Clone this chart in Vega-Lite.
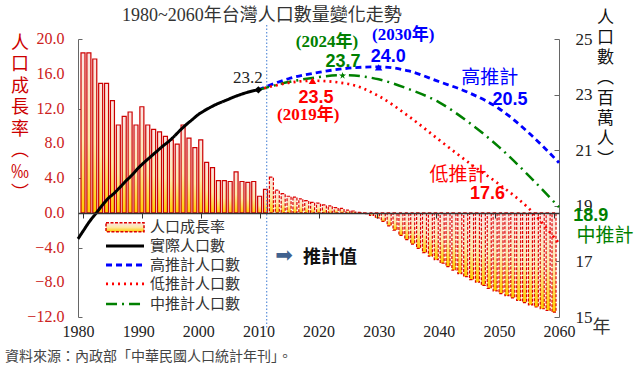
{
"$schema": "https://vega.github.io/schema/vega-lite/v6.json",
"width": 481, "height": 278,
"autosize": {"type": "none"},
"padding": {"left": 78, "top": 39, "right": 81, "bottom": 51},
"background": "white",
"config": {"view": {"stroke": null}, "axis": {"grid": false, "labelOverlap": false, "labelFlush": false}},
"datasets": {
"rate": [
{"year":1980,"rate":18.4,"kind":"實際"},{"year":1981,"rate":18.4,"kind":"實際"},{"year":1982,"rate":17.7,"kind":"實際"},{"year":1983,"rate":14.9,"kind":"實際"},{"year":1984,"rate":14.9,"kind":"實際"},{"year":1985,"rate":12.9,"kind":"實際"},{"year":1986,"rate":10.1,"kind":"實際"},{"year":1987,"rate":11.1,"kind":"實際"},{"year":1988,"rate":11.6,"kind":"實際"},{"year":1989,"rate":10.1,"kind":"實際"},
{"year":1990,"rate":12.2,"kind":"實際"},{"year":1991,"rate":10.1,"kind":"實際"},{"year":1992,"rate":9.6,"kind":"實際"},{"year":1993,"rate":9.3,"kind":"實際"},{"year":1994,"rate":8.8,"kind":"實際"},{"year":1995,"rate":8.4,"kind":"實際"},{"year":1996,"rate":7.9,"kind":"實際"},{"year":1997,"rate":10.1,"kind":"實際"},{"year":1998,"rate":8.6,"kind":"實際"},{"year":1999,"rate":7.5,"kind":"實際"},
{"year":2000,"rate":8.4,"kind":"實際"},{"year":2001,"rate":5.8,"kind":"實際"},{"year":2002,"rate":5.2,"kind":"實際"},{"year":2003,"rate":3.7,"kind":"實際"},{"year":2004,"rate":3.7,"kind":"實際"},{"year":2005,"rate":3.6,"kind":"實際"},{"year":2006,"rate":4.7,"kind":"實際"},{"year":2007,"rate":3.6,"kind":"實際"},{"year":2008,"rate":3.5,"kind":"實際"},{"year":2009,"rate":3.6,"kind":"實際"},
{"year":2010,"rate":1.9,"kind":"實際"},{"year":2011,"rate":2.7,"kind":"實際"},
{"year":2012,"rate":4.1,"kind":"推計"},{"year":2013,"rate":2.6,"kind":"推計"},{"year":2014,"rate":2.2,"kind":"推計"},{"year":2015,"rate":1.9,"kind":"推計"},{"year":2016,"rate":1.8,"kind":"推計"},{"year":2017,"rate":1.6,"kind":"推計"},{"year":2018,"rate":1.4,"kind":"推計"},{"year":2019,"rate":1.2,"kind":"推計"},
{"year":2020,"rate":1.1,"kind":"推計"},{"year":2021,"rate":0.9,"kind":"推計"},{"year":2022,"rate":0.8,"kind":"推計"},{"year":2023,"rate":0.6,"kind":"推計"},{"year":2024,"rate":0.5,"kind":"推計"},{"year":2025,"rate":0.3,"kind":"推計"},{"year":2026,"rate":0.2,"kind":"推計"},{"year":2027,"rate":0.05,"kind":"推計"},{"year":2028,"rate":-0.1,"kind":"推計"},{"year":2029,"rate":-0.3,"kind":"推計"},
{"year":2030,"rate":-0.6,"kind":"推計"},{"year":2031,"rate":-1.0,"kind":"推計"},{"year":2032,"rate":-1.5,"kind":"推計"},{"year":2033,"rate":-2.0,"kind":"推計"},{"year":2034,"rate":-2.6,"kind":"推計"},{"year":2035,"rate":-3.1,"kind":"推計"},{"year":2036,"rate":-3.6,"kind":"推計"},{"year":2037,"rate":-4.1,"kind":"推計"},{"year":2038,"rate":-4.6,"kind":"推計"},{"year":2039,"rate":-5.0,"kind":"推計"},
{"year":2040,"rate":-5.4,"kind":"推計"},{"year":2041,"rate":-5.8,"kind":"推計"},{"year":2042,"rate":-6.2,"kind":"推計"},{"year":2043,"rate":-6.6,"kind":"推計"},{"year":2044,"rate":-7.0,"kind":"推計"},{"year":2045,"rate":-7.35,"kind":"推計"},{"year":2046,"rate":-7.7,"kind":"推計"},{"year":2047,"rate":-8.0,"kind":"推計"},{"year":2048,"rate":-8.35,"kind":"推計"},{"year":2049,"rate":-8.7,"kind":"推計"},
{"year":2050,"rate":-9.0,"kind":"推計"},{"year":2051,"rate":-9.3,"kind":"推計"},{"year":2052,"rate":-9.55,"kind":"推計"},{"year":2053,"rate":-9.8,"kind":"推計"},{"year":2054,"rate":-10.1,"kind":"推計"},{"year":2055,"rate":-10.35,"kind":"推計"},{"year":2056,"rate":-10.6,"kind":"推計"},{"year":2057,"rate":-10.85,"kind":"推計"},{"year":2058,"rate":-11.05,"kind":"推計"},{"year":2059,"rate":-11.25,"kind":"推計"},
{"year":2060,"rate":-11.45,"kind":"推計"}
],
"pop": [
{"series":"實際","year":1980,"pop":17.81},{"series":"實際","year":1981,"pop":18.14},{"series":"實際","year":1982,"pop":18.46},{"series":"實際","year":1983,"pop":18.73},{"series":"實際","year":1984,"pop":19.01},{"series":"實際","year":1985,"pop":19.26},{"series":"實際","year":1986,"pop":19.45},{"series":"實際","year":1987,"pop":19.67},{"series":"實際","year":1988,"pop":19.9},{"series":"實際","year":1989,"pop":20.11},
{"series":"實際","year":1990,"pop":20.35},{"series":"實際","year":1991,"pop":20.56},{"series":"實際","year":1992,"pop":20.75},{"series":"實際","year":1993,"pop":20.94},{"series":"實際","year":1994,"pop":21.13},{"series":"實際","year":1995,"pop":21.3},{"series":"實際","year":1996,"pop":21.5},{"series":"實際","year":1997,"pop":21.72},{"series":"實際","year":1998,"pop":21.92},{"series":"實際","year":1999,"pop":22.1},
{"series":"實際","year":2000,"pop":22.28},{"series":"實際","year":2001,"pop":22.42},{"series":"實際","year":2002,"pop":22.54},{"series":"實際","year":2003,"pop":22.65},{"series":"實際","year":2004,"pop":22.74},{"series":"實際","year":2005,"pop":22.83},{"series":"實際","year":2006,"pop":22.92},{"series":"實際","year":2007,"pop":23.0},{"series":"實際","year":2008,"pop":23.07},{"series":"實際","year":2009,"pop":23.13},{"series":"實際","year":2010,"pop":23.17},
{"series":"高","year":2010,"pop":23.17},{"series":"高","year":2015,"pop":23.57},{"series":"高","year":2020,"pop":23.8},{"series":"高","year":2025,"pop":23.95},{"series":"高","year":2030,"pop":24.0},{"series":"高","year":2035,"pop":23.85},{"series":"高","year":2040,"pop":23.47},{"series":"高","year":2045,"pop":23.07},{"series":"高","year":2050,"pop":22.5},{"series":"高","year":2055,"pop":21.62},{"series":"高","year":2060,"pop":20.55},
{"series":"中","year":2010,"pop":23.17},{"series":"中","year":2015,"pop":23.45},{"series":"中","year":2020,"pop":23.63},{"series":"中","year":2024,"pop":23.7},{"series":"中","year":2030,"pop":23.55},{"series":"中","year":2035,"pop":23.2},{"series":"中","year":2040,"pop":22.73},{"series":"中","year":2045,"pop":22.0},{"series":"中","year":2050,"pop":21.12},{"series":"中","year":2055,"pop":20.08},{"series":"中","year":2060,"pop":18.95},
{"series":"低","year":2010,"pop":23.17},{"series":"低","year":2015,"pop":23.42},{"series":"低","year":2019,"pop":23.5},{"series":"低","year":2025,"pop":23.38},{"series":"低","year":2030,"pop":22.95},{"series":"低","year":2035,"pop":22.22},{"series":"低","year":2040,"pop":21.38},{"series":"低","year":2045,"pop":20.55},{"series":"低","year":2050,"pop":19.78},{"series":"低","year":2055,"pop":18.9},{"series":"低","year":2060,"pop":17.65}
],
"peaks": [
{"series":"實際","year":2010,"pop":23.17},{"series":"低","year":2019,"pop":23.5},{"series":"中","year":2024,"pop":23.68},{"series":"高","year":2030,"pop":23.98}
],
"legendLines": [
{"series":"實際","x1":1984.66,"x2":1990.98,"y":17.55},{"series":"高","x1":1984.66,"x2":1990.98,"y":16.87},{"series":"低","x1":1984.66,"x2":1990.98,"y":16.19},{"series":"中","x1":1984.66,"x2":1990.98,"y":15.47}
],
"legendLabels": [
{"t":"人口成長率","x":1991.98,"y":18.23},{"t":"實際人口數","x":1991.98,"y":17.55},{"t":"高推計人口數","x":1991.98,"y":16.87},{"t":"低推計人口數","x":1991.98,"y":16.19},{"t":"中推計人口數","x":1991.98,"y":15.47}
],
"numbers": [
{"t":"23.7","series":"中","x":2024.07,"y":24.19},{"t":"24.0","series":"高","x":2031.6,"y":24.37},{"t":"23.5","series":"低","x":2019.6,"y":22.86},{"t":"20.5","series":"高","x":2051.85,"y":22.8},{"t":"17.6","series":"低","x":2048.1,"y":19.41},{"t":"18.9","series":"中","x":2065.3,"y":18.65}
],
"years": [
{"t":"(2024年)","series":"中","x":2021.4,"y":24.91},{"t":"(2030年)","series":"高","x":2034.1,"y":25.14},{"t":"(2019年)","series":"低","x":2018.3,"y":22.27}
],
"names": [
{"t":"高推計","series":"高","x":2048.5,"y":23.6},{"t":"低推計","series":"低","x":2043.2,"y":20.1},{"t":"中推計","series":"中","x":2067.65,"y":17.9}
]
},
"layer": [
{
"layer": [
{"data": {"name": "rate"}, "transform": [{"filter": "datum.kind == '實際'"}],
 "mark": {"type": "bar", "width": 4, "stroke": "#CC0000", "strokeWidth": 1.2, "fill": {"gradient": "linear", "x1": 0, "y1": 0, "x2": 0, "y2": 1, "stops": [{"offset": 0, "color": "#FBE4E4"}, {"offset": 0.55, "color": "#FDE8A8"}, {"offset": 1, "color": "#FFCC00"}]}},
 "encoding": {
  "x": {"field": "year", "type": "quantitative", "scale": {"domain": [1980, 2060], "nice": false, "zero": false},
   "axis": {"orient": "bottom", "offset": -104, "values": [1980,1985,1990,1995,2000,2005,2010,2015,2020,2025,2030,2035,2040,2045,2050,2055,2060], "labels": false, "ticks": true, "tickSize": 5, "tickColor": "#333333", "domain": true, "domainColor": "#333333", "domainWidth": 1.5, "title": null, "grid": false, "zindex": 1}},
  "y": {"field": "rate", "type": "quantitative", "scale": {"domain": [-12, 20], "nice": false, "zero": false},
   "axis": {"orient": "left", "values": [-12,-10,-8,-6,-4,-2,0,2,4,6,8,10,12,14,16,18,20], "labels": false, "tickSize": -4, "tickColor": "#666666", "domainColor": "#666666", "grid": false,
    "title": ["人","口","成","長","率","︵","‰","︶"], "titleAngle": 0, "titleX": -58.5, "titleY": -5, "titleAlign": "center", "titleBaseline": "top", "titleFont": "Noto Sans CJK TC", "titleFontSize": 18, "titleFontWeight": "normal", "titleColor": "#CC0000", "titleLineHeight": 21.5}}
 }},
{"data": {"name": "rate"}, "transform": [{"filter": "datum.kind == '推計'"}],
 "mark": {"type": "bar", "width": 4, "stroke": "#DD0000", "strokeWidth": 1.2, "strokeDash": [3, 1.5], "fill": {"gradient": "linear", "x1": 0, "y1": 0, "x2": 0, "y2": 1, "stops": [{"offset": 0, "color": "#FBE4E4"}, {"offset": 0.55, "color": "#FDE8A8"}, {"offset": 1, "color": "#FFCC00"}]}},
 "encoding": {"x": {"field": "year", "type": "quantitative"}, "y": {"field": "rate", "type": "quantitative"}}},
{"data": {"values": [{"year": 2011.2, "top": 21.6, "bottom": -13.2}]},
 "mark": {"type": "rule", "color": "#5B8FD9", "strokeDash": [1.5, 2], "strokeWidth": 1.2},
 "encoding": {"x": {"field": "year", "type": "quantitative"}, "y": {"field": "top", "type": "quantitative"}, "y2": {"field": "bottom"}}},
{"data": {"values": [{"v": -12}, {"v": -8}, {"v": -4}, {"v": 0}, {"v": 4}, {"v": 8}, {"v": 12}, {"v": 16}, {"v": 20}]},
 "mark": {"type": "text", "align": "right", "baseline": "middle", "font": "Liberation Serif", "fontSize": 16, "color": "#CC2020"},
 "encoding": {"x": {"datum": 1976.84, "type": "quantitative"}, "y": {"field": "v", "type": "quantitative"}, "text": {"field": "v", "type": "quantitative", "format": ".1f"}}}
]
},
{
"layer": [
{"data": {"name": "pop"},
 "mark": {"type": "line", "interpolate": "monotone"},
 "encoding": {
  "x": {"field": "year", "type": "quantitative", "scale": {"domain": [1980, 2060], "nice": false, "zero": false},
   "axis": {"orient": "bottom", "values": [1980,1990,2000,2010,2020,2030,2040,2050,2060], "format": "d", "labelFlush": false, "labelOverlap": false, "domain": false, "ticks": false, "tickSize": 0, "labelFont": "Liberation Serif", "labelFontSize": 16, "labelColor": "#222222", "labelPadding": 6, "grid": false,
    "title": "年", "titleFont": "Noto Sans CJK TC", "titleFontSize": 18, "titleFontWeight": "normal", "titleColor": "#333333", "titleX": 523, "titleY": 10, "titleAlign": "center", "titleBaseline": "middle"}},
  "y": {"field": "pop", "type": "quantitative", "scale": {"domain": [15, 25], "nice": false, "zero": false},
   "axis": {"orient": "right", "values": [15,16,17,18,19,20,21,22,23,24,25], "labelExpr": "datum.value % 2 == 1 ? datum.label : ''", "labelOverlap": false, "labelFlush": false, "labelFont": "Liberation Serif", "labelFontSize": 17, "labelColor": "#222222", "tickSize": -5, "tickColor": "#666666", "labelPadding": 21, "domainColor": "#666666", "grid": false,
    "title": ["人","口","數","︵","百","萬","人","︶"], "titleAngle": 0, "titleX": 46, "titleY": -30, "titleAlign": "center", "titleBaseline": "top", "titleFont": "Noto Sans CJK TC", "titleFontSize": 17, "titleFontWeight": "normal", "titleColor": "#111111", "titleLineHeight": 20.3}},
  "color": {"field": "series", "type": "nominal", "scale": {"domain": ["實際","高","低","中"], "range": ["#000000","#0000FF","#FF0000","#008000"]}, "legend": null},
  "strokeDash": {"field": "series", "type": "nominal", "scale": {"domain": ["實際","高","低","中"], "range": [[1,0],[6,4],[2,4],[11,5,2,5]]}, "legend": null},
  "strokeWidth": {"field": "series", "type": "ordinal", "scale": {"domain": ["實際","高","低","中"], "range": [3,2.5,2,2.5]}, "legend": null}
 }},
{"data": {"name": "peaks"},
 "mark": {"type": "point", "filled": true, "opacity": 1, "size": 55},
 "encoding": {"x": {"field": "year", "type": "quantitative"}, "y": {"field": "pop", "type": "quantitative"},
  "color": {"field": "series", "type": "nominal", "legend": null},
  "shape": {"field": "series", "type": "nominal", "scale": {"domain": ["實際","高","低","中"], "range": ["diamond","triangle-up","triangle-up","M0,-1L0.2245,-0.309L0.951,-0.309L0.363,0.118L0.588,0.809L0,0.382L-0.588,0.809L-0.363,0.118L-0.951,-0.309L-0.2245,-0.309Z"]}, "legend": null}}},
{"data": {"name": "legendLines"},
 "mark": {"type": "rule"},
 "encoding": {"x": {"field": "x1", "type": "quantitative"}, "x2": {"field": "x2"}, "y": {"field": "y", "type": "quantitative"},
  "color": {"field": "series", "type": "nominal", "legend": null},
  "strokeDash": {"field": "series", "type": "nominal", "legend": null},
  "strokeWidth": {"field": "series", "type": "ordinal", "legend": null}}},
{"data": {"values": [{"x1": 1984.66, "x2": 1990.98, "y1": 18.39, "y2": 18.07}]},
 "mark": {"type": "rect", "stroke": "#DD0000", "strokeWidth": 1.5, "strokeDash": [3, 1.5], "fill": {"gradient": "linear", "x1": 0, "y1": 0, "x2": 0, "y2": 1, "stops": [{"offset": 0, "color": "#FBE4E4"}, {"offset": 0.5, "color": "#FDE8A8"}, {"offset": 1, "color": "#FFCC00"}]}},
 "encoding": {"x": {"field": "x1", "type": "quantitative"}, "x2": {"field": "x2"}, "y": {"field": "y1", "type": "quantitative"}, "y2": {"field": "y2"}}},
{"data": {"name": "legendLabels"},
 "mark": {"type": "text", "align": "left", "baseline": "middle", "font": "Noto Sans CJK TC", "fontSize": 15, "color": "#333333"},
 "encoding": {"x": {"field": "x", "type": "quantitative"}, "y": {"field": "y", "type": "quantitative"}, "text": {"field": "t"}}},
{"data": {"name": "numbers"},
 "mark": {"type": "text", "align": "center", "baseline": "middle", "font": "Liberation Sans", "fontSize": 18, "fontWeight": "bold"},
 "encoding": {"x": {"field": "x", "type": "quantitative"}, "y": {"field": "y", "type": "quantitative"}, "text": {"field": "t"}, "color": {"field": "series", "type": "nominal", "legend": null}}},
{"data": {"name": "years"},
 "mark": {"type": "text", "align": "center", "baseline": "middle", "font": "Liberation Serif, Noto Sans CJK TC", "fontSize": 17, "fontWeight": "bold"},
 "encoding": {"x": {"field": "x", "type": "quantitative"}, "y": {"field": "y", "type": "quantitative"}, "text": {"field": "t"}, "color": {"field": "series", "type": "nominal", "legend": null}}},
{"data": {"name": "names"},
 "mark": {"type": "text", "align": "center", "baseline": "middle", "font": "Noto Sans CJK TC", "fontSize": 19},
 "encoding": {"x": {"field": "x", "type": "quantitative"}, "y": {"field": "y", "type": "quantitative"}, "text": {"field": "t"}, "color": {"field": "series", "type": "nominal", "legend": null}}},
{"data": {"values": [{"t": "23.2", "x": 2008.27, "y": 23.6}]},
 "mark": {"type": "text", "align": "center", "baseline": "middle", "font": "Liberation Serif", "fontSize": 17, "color": "#222222"},
 "encoding": {"x": {"field": "x", "type": "quantitative"}, "y": {"field": "y", "type": "quantitative"}, "text": {"field": "t"}}},
{"data": {"values": [{"t": "1980~2060年台灣人口數量變化走勢", "x": 2010.6, "y": 25.83}]},
 "mark": {"type": "text", "align": "center", "baseline": "middle", "font": "Liberation Serif, Noto Sans CJK TC", "fontSize": 18, "color": "#333333"},
 "encoding": {"x": {"field": "x", "type": "quantitative"}, "y": {"field": "y", "type": "quantitative"}, "text": {"field": "t"}}},
{"data": {"values": [{"t": "➡", "x": 2014.26, "y": 17.19}]},
 "mark": {"type": "text", "align": "center", "baseline": "middle", "font": "DejaVu Sans", "fontSize": 21, "color": "#41628F"},
 "encoding": {"x": {"field": "x", "type": "quantitative"}, "y": {"field": "y", "type": "quantitative"}, "text": {"field": "t"}}},
{"data": {"values": [{"t": "推計值", "x": 2021.9, "y": 17.12}]},
 "mark": {"type": "text", "align": "center", "baseline": "middle", "font": "Noto Sans CJK TC", "fontSize": 18, "fontWeight": "bold", "color": "#111111"},
 "encoding": {"x": {"field": "x", "type": "quantitative"}, "y": {"field": "y", "type": "quantitative"}, "text": {"field": "t"}}},
{"data": {"values": [{"t": "資料來源：內政部「中華民國人口統計年刊」。", "x": 1967.86, "y": 13.56}]},
 "mark": {"type": "text", "align": "left", "baseline": "middle", "font": "Noto Sans CJK TC", "fontSize": 14, "color": "#444444"},
 "encoding": {"x": {"field": "x", "type": "quantitative"}, "y": {"field": "y", "type": "quantitative"}, "text": {"field": "t"}}}
]
}
],
"resolve": {"scale": {"x": "independent", "y": "independent"}}
}
